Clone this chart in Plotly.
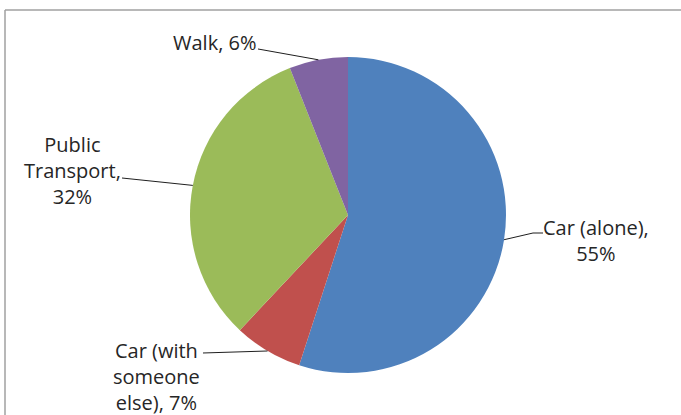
import math
import plotly.graph_objects as go

# Commute mode share
modes = ["Car (alone)", "Car (with someone else)", "Public Transport", "Walk"]
shares = [55, 7, 32, 6]
label_text = ["Car (alone),<br>55%", "Car (with<br>someone<br>else), 7%",
              "Public<br>Transport,<br>32%", "Walk, 6%"]
colors = ["#4F81BD", "#C0504D", "#9BBB59", "#8064A2"]

W, H = 681, 415
CX, CY, R = 348, 215, 158  # pie centre / radius in px

# label block centre (px) and leader elbow points (px, from label side) for each slice
label_pos = [(596, 240), (156, 376), (72, 170), (214, 42)]
elbows = [[(543, 233), (533, 233)], [(203, 353)], [(122, 178)], [(258, 49)]]


def px(x, y):
    return x / W, 1 - y / H


fig = go.Figure(go.Pie(
    labels=modes, values=shares, sort=False, direction="clockwise", rotation=0,
    marker=dict(colors=colors, line=dict(width=0)),
    textinfo="none", hoverinfo="label+percent", showlegend=False,
    domain=dict(x=[(CX - R) / W, (CX + R) / W],
                y=[(H - CY - R) / H, (H - CY + R) / H]),
))

total = sum(shares)
cum = 0
shapes = []
annotations = []
for i, v in enumerate(shares):
    # leader line starts on the rim at the slice's mid-angle
    mid = (cum + v / 2) / total * 2 * math.pi
    cum += v
    ex, ey = CX + R * math.sin(mid), CY - R * math.cos(mid)
    pts = [(ex, ey)] + list(reversed(elbows[i]))
    path = "M " + " L ".join(f"{px(x, y)[0]:.5f},{px(x, y)[1]:.5f}" for x, y in pts)
    shapes.append(dict(type="path", xref="paper", yref="paper", path=path,
                       line=dict(color="#1f1f1f", width=1)))
    lx, ly = px(*label_pos[i])
    annotations.append(dict(x=lx, y=ly, xref="paper", yref="paper", text=label_text[i],
                            showarrow=False, xanchor="center", yanchor="middle",
                            align="center", font=dict(size=20, color="#262626")))

# chart area frame (top and left edges visible)
fx, fy = px(5, 10)
shapes.append(dict(type="line", xref="paper", yref="paper",
                   x0=fx, y0=fy, x1=1.01, y1=fy,
                   line=dict(color="#a0a0a0", width=1.5)))
shapes.append(dict(type="line", xref="paper", yref="paper",
                   x0=fx, y0=fy, x1=fx, y1=-0.01,
                   line=dict(color="#a0a0a0", width=1.5)))

fig.update_layout(
    width=W, height=H, margin=dict(l=0, r=0, t=0, b=0),
    paper_bgcolor="white", plot_bgcolor="white",
    font=dict(family="Open Sans, sans-serif"),
    shapes=shapes, annotations=annotations,
)

fig.write_html("out.html")
